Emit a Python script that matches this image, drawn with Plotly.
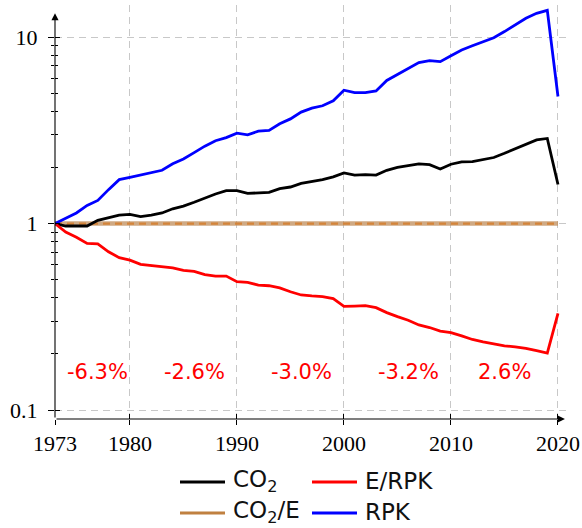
import math
import plotly.graph_objects as go

years = list(range(1973, 2021))

co2 = [1.00, 0.97, 0.97, 0.97, 1.04, 1.07, 1.11, 1.12, 1.09, 1.11,
       1.14, 1.20, 1.24, 1.30, 1.37, 1.44, 1.50, 1.50, 1.45, 1.46,
       1.47, 1.54, 1.57, 1.64, 1.68, 1.72, 1.78, 1.87, 1.82, 1.83,
       1.82, 1.93, 2.00, 2.04, 2.09, 2.07, 1.96, 2.08, 2.14, 2.15,
       2.20, 2.26, 2.38, 2.52, 2.68, 2.81, 2.86, 1.62]

rpk = [1.00, 1.07, 1.14, 1.25, 1.33, 1.52, 1.72, 1.77, 1.82, 1.87,
       1.93, 2.09, 2.22, 2.40, 2.60, 2.78, 2.89, 3.05, 2.99, 3.13,
       3.16, 3.43, 3.64, 3.96, 4.16, 4.28, 4.55, 5.19, 5.04, 5.04,
       5.14, 5.85, 6.30, 6.72, 7.29, 7.47, 7.38, 7.94, 8.52, 8.98,
       9.45, 9.91, 10.7, 11.6, 12.6, 13.4, 13.9, 4.80]

e_rpk = [1.000, 0.900, 0.845, 0.782, 0.779, 0.706, 0.656, 0.637, 0.604, 0.597,
         0.585, 0.578, 0.561, 0.554, 0.532, 0.523, 0.523, 0.488, 0.484, 0.468,
         0.464, 0.452, 0.431, 0.414, 0.409, 0.406, 0.396, 0.360, 0.361, 0.363,
         0.354, 0.333, 0.317, 0.303, 0.286, 0.277, 0.265, 0.260, 0.250, 0.239,
         0.232, 0.226, 0.221, 0.218, 0.214, 0.208, 0.202, 0.330]

co2_e = [1.0, 1.0, 1.0, 1.0, 1.0, 1.0, 1.0, 1.0, 1.0, 1.0,
         1.0, 1.0, 1.0, 1.0, 1.0, 1.0, 1.0, 1.0, 1.0, 1.0,
         1.0, 1.0, 1.0, 1.0, 1.0, 1.0, 1.0, 1.0, 1.0, 1.0,
         1.0, 1.0, 1.0, 1.0, 1.0, 1.0, 1.0, 1.0, 1.0, 1.0,
         1.0, 1.0, 1.0, 1.0, 1.0, 1.0, 1.0, 1.0]

rate_labels = ["-6.3%", "-2.6%", "-3.0%", "-3.2%", "2.6%"]
rate_x = [1977, 1986, 1996, 2006, 2015]
rate_y = [0.16, 0.16, 0.16, 0.16, 0.16]

x_ticks = [1973, 1980, 1990, 2000, 2010, 2020]
y_ticks = [0.1, 1, 10]
y_tick_text = ["0.1", "1", "10"]
y_minor = [0.2, 0.3, 0.4, 0.5, 0.6, 0.7, 0.8, 0.9, 2, 3, 4, 5, 6, 7, 8, 9]

legend_names = ["CO<sub>2</sub>", "E/RPK", "CO<sub>2</sub>/E", "RPK"]

# ---- style / layout ----
W, H = 582, 528
L, R, T, B = 55, 14, 5, 109
PXY = 10.702          # pixels per year
PXD = 186.5           # pixels per decade
x0 = 1973
x1 = x0 + (W - L - R) / PXY
y_lo = -1.048
y_hi = y_lo + (H - T - B) / PXD
y_axis_top = 1.128
x_axis_end = 2020.65

BLACK = "#000000"
RED = "#ff0000"
BLUE = "#0000ff"
BROWN = "#c08040"
TAN = "rgba(191,140,90,0.75)"
ORANGE = "#d4843a"
legend_colors = [BLACK, RED, BROWN, BLUE]

GRID = "#c8c8c8"
SERIF = "Liberation Serif"
SANS = "DejaVu Sans"

fig = go.Figure()

fig.add_trace(go.Scatter(x=years, y=co2_e, mode="lines", name="CO2/E",
                         line=dict(color=TAN, width=4.5), showlegend=False))
fig.add_trace(go.Scatter(x=years, y=co2_e, mode="lines", name="CO2/E dash",
                         line=dict(color=ORANGE, width=2.2, dash="7px,5px"),
                         showlegend=False, hoverinfo="skip"))
fig.add_trace(go.Scatter(x=years, y=co2, mode="lines", name="CO2",
                         line=dict(color=BLACK, width=2.8), showlegend=False))
fig.add_trace(go.Scatter(x=years, y=e_rpk, mode="lines", name="E/RPK",
                         line=dict(color=RED, width=2.8), showlegend=False))
fig.add_trace(go.Scatter(x=years, y=rpk, mode="lines", name="RPK",
                         line=dict(color=BLUE, width=2.8), showlegend=False))
# dummy trace to activate overlay axes (inner halves of crossing ticks)
fig.add_trace(go.Scatter(x=[None], y=[None], xaxis="x2", yaxis="y2",
                         showlegend=False, hoverinfo="skip"))

annotations = []
for lab, xx, yy in zip(rate_labels, rate_x, rate_y):
    annotations.append(dict(x=xx, y=math.log10(yy), xref="x", yref="y",
                            text=lab, showarrow=False,
                            font=dict(family=SANS, size=21, color=RED),
                            xanchor="center", yanchor="middle"))

# axes with arrows
annotations.append(dict(x=x0, y=y_axis_top, xref="x", yref="y",
                        ax=x0, ay=y_lo, axref="x", ayref="y", text="",
                        showarrow=True, arrowhead=2, arrowsize=1.3,
                        arrowwidth=1.1, arrowcolor=BLACK, standoff=0))
annotations.append(dict(x=x_axis_end, y=y_lo, xref="x", yref="y",
                        ax=x0, ay=y_lo, axref="x", ayref="y", text="",
                        showarrow=True, arrowhead=2, arrowsize=1.3,
                        arrowwidth=1.1, arrowcolor=BLACK, standoff=0))

# manual legend
pw = W - L - R
ph = H - T - B


def px2paper_x(px):
    return (px - L) / pw


def px2paper_y(py):
    return 1 - (py - T) / ph


shapes = []
col_x = [180, 312]
row_y = [482, 513]
for i, (nm, col) in enumerate(zip(legend_names, legend_colors)):
    cx = col_x[i % 2]
    ry = row_y[i // 2]
    shapes.append(dict(type="line", xref="paper", yref="paper",
                       x0=px2paper_x(cx), x1=px2paper_x(cx + 45),
                       y0=px2paper_y(ry), y1=px2paper_y(ry),
                       line=dict(color=col, width=3)))
    annotations.append(dict(x=px2paper_x(cx + 51), y=px2paper_y(ry - 1),
                            xref="paper", yref="paper", text=nm,
                            showarrow=False, xanchor="left", yanchor="middle",
                            font=dict(family=SANS, size=23, color="#111111")))

fig.update_layout(
    width=W, height=H,
    margin=dict(l=L, r=R, t=T, b=B),
    paper_bgcolor="white", plot_bgcolor="white",
    showlegend=False,
    annotations=annotations,
    shapes=shapes,
    xaxis=dict(range=[x0, x1], tickmode="array", tickvals=x_ticks,
               ticks="outside", ticklen=5, tickcolor=BLACK, tickwidth=1,
               showgrid=True, gridcolor=GRID, griddash="7px,5px", gridwidth=1,
               showline=False, zeroline=False, automargin=False,
               tickfont=dict(family=SERIF, size=22, color=BLACK)),
    yaxis=dict(type="log", range=[y_lo, y_hi], tickmode="array",
               tickvals=y_ticks, ticktext=y_tick_text,
               ticks="outside", ticklen=6, tickcolor=BLACK, tickwidth=1,
               minor=dict(tickmode="array", tickvals=y_minor, ticks="outside",
                          ticklen=3, tickcolor=BLACK, tickwidth=1, showgrid=False),
               showgrid=True, gridcolor=GRID, griddash="7px,5px", gridwidth=1,
               showline=False, zeroline=False, ticklabelstandoff=6,
               automargin=False,
               tickfont=dict(family=SERIF, size=22, color=BLACK)),
    xaxis2=dict(range=[x0, x1], overlaying="x", anchor="y2", tickmode="array",
                tickvals=x_ticks, ticks="inside", ticklen=5, tickcolor=BLACK,
                showticklabels=False, showgrid=False, showline=False,
                zeroline=False),
    yaxis2=dict(type="log", range=[y_lo, y_hi], overlaying="y", anchor="x2",
                tickmode="array", tickvals=y_ticks, ticks="inside", ticklen=5,
                tickcolor=BLACK,
                minor=dict(tickmode="array", tickvals=y_minor, ticks="inside",
                           ticklen=3, tickcolor=BLACK, showgrid=False),
                showticklabels=False, showgrid=False, showline=False,
                zeroline=False),
)

fig.write_html("out.html",
               config={"displayModeBar": False},
               post_script="document.body.style.margin='0';"
                           "document.body.style.overflow='hidden';")
